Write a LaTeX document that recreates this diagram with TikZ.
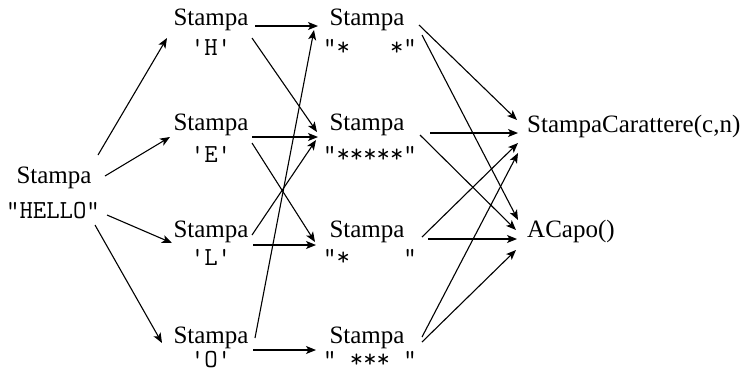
\documentclass[tikz,border=0pt]{standalone}
\usepackage{fontspec}
\setmainfont{Liberation Serif}
\usetikzlibrary{arrows.meta}
\newcommand\sq{\textquotesingle}
\begin{document}
\begin{tikzpicture}[x=1pt,y=-1pt,
  lab/.style={inner sep=0pt,anchor=base,font=\fontsize{25}{28}\selectfont},
  str/.style={inner sep=0pt,anchor=base,font=\fontsize{26}{28}\selectfont\ttfamily},
  fn/.style={inner sep=0pt,anchor=base west,font=\fontsize{25}{28}\selectfont},
  arr/.style={line width=1.1pt,-{Stealth[length=10pt,width=8pt,inset=2.5pt]}}]
\useasboundingbox (0,0) rectangle (744,373);
% root
\node[lab] (r) at (54,183) {Stampa};
\node[str] (rs) at (53,218) {"HELLO"};
% level 1
\node[lab] (h) at (211,25) {Stampa};
\node[str] (hs) at (211,55) {\sq H\sq};
\node[lab] (e) at (211,130) {Stampa};
\node[str] (es) at (211,162) {\sq E\sq};
\node[lab] (l) at (211,237) {Stampa};
\node[str] (ls) at (211,265) {\sq L\sq};
\node[lab] (o) at (211,343) {Stampa};
\node[str] (os) at (211,367) {\sq O\sq};
% level 2
\node[lab] (s1) at (367,25) {Stampa};
\node[str] (s1s) at (370,55) {"*\ \ \ *"};
\node[lab] (s5) at (367,130) {Stampa};
\node[str] (s5s) at (370,162) {"*****"};
\node[lab] (sl) at (367,237) {Stampa};
\node[str] (sls) at (370,265) {"*\ \ \ \ "};
\node[lab] (s3) at (367,343) {Stampa};
\node[str] (s3s) at (370,367) {"\ ***\ "};
% right
\node[fn] (sc) at (527,132) {StampaCarattere(c,n)};
\node[fn] (ac) at (527,237) {ACapo()};
% root edges
\draw[arr] ([shift={(44,-28)}]r.base) -- ([shift={(-44,13)}]h.base);
\draw[arr] ([shift={(51,-7)}]r.base) -- ([shift={(-41,7)}]e.base);
\draw[arr] ([shift={(54,-3)}]rs.base) -- ([shift={(-39,6)}]l.base);
\draw[arr] ([shift={(42,7)}]rs.base) -- ([shift={(-49,0)}]o.base);
% level 1 -> level 2
\draw[arr] ([shift={(44,1)}]h.base) -- ([shift={(-49,1)}]s1.base);
\draw[arr] ([shift={(41,13)}]h.base) -- ([shift={(-50,2)}]s5.base);
\draw[arr] ([shift={(41,7)}]e.base) -- ([shift={(-49,7)}]s5.base);
\draw[arr] ([shift={(41,13)}]e.base) -- ([shift={(-52,5)}]sl.base);
\draw[arr] ([shift={(41,-2)}]l.base) -- ([shift={(-51,10)}]s5.base);
\draw[arr] ([shift={(42,8)}]l.base) -- ([shift={(-51,8)}]sl.base);
\draw[arr] ([shift={(44,-5)}]o.base) -- ([shift={(-53,5)}]s1.base);
\draw[arr] ([shift={(42,7)}]o.base) -- ([shift={(-51,7)}]s3.base);
% level 2 -> right
\draw[arr] ([shift={(52,0)}]s1.base) -- ([shift={(-10,-12)}]sc.base west);
\draw[arr] ([shift={(55,10)}]s1.base) -- ([shift={(-9,-17)}]ac.base west);
\draw[arr] ([shift={(63,3)}]s5.base) -- ([shift={(-9,1)}]sc.base west);
\draw[arr] ([shift={(53,5)}]s5.base) -- ([shift={(-11,-7)}]ac.base west);
\draw[arr] ([shift={(55,0)}]sl.base) -- ([shift={(-9,11)}]sc.base west);
\draw[arr] ([shift={(61,2)}]sl.base) -- ([shift={(-10,2)}]ac.base west);
\draw[arr] ([shift={(55,-6)}]s3.base) -- ([shift={(-9,21)}]sc.base west);
\draw[arr] ([shift={(55,-1)}]s3.base) -- ([shift={(-11,13)}]ac.base west);
\end{tikzpicture}
\end{document}
